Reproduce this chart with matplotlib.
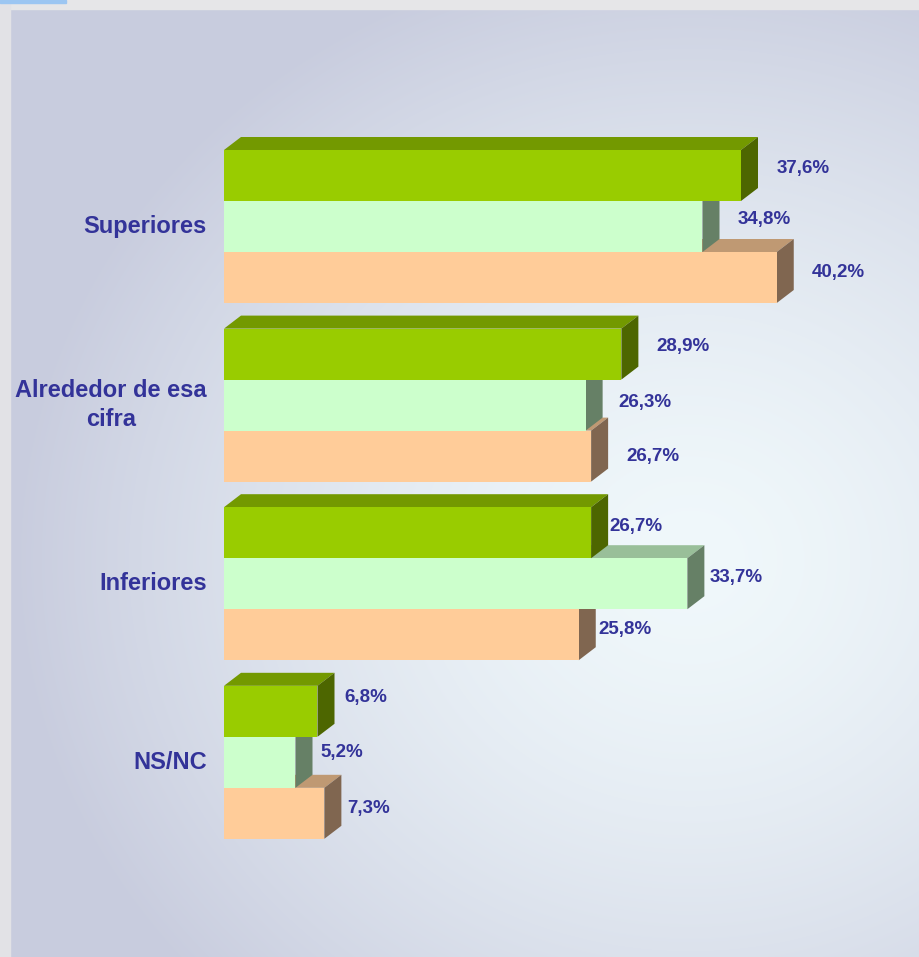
import matplotlib
matplotlib.use("Agg")
import matplotlib.pyplot as plt
from matplotlib.patches import Polygon, Rectangle
import numpy as np

# data
categories = ["Superiores", "Alrededor de esa\ncifra", "Inferiores", "NS/NC"]
series_a = [37.6, 28.9, 26.7, 6.8]   # top bar (green)
series_b = [34.8, 26.3, 33.7, 5.2]   # middle bar (light green)
series_c = [40.2, 26.7, 25.8, 7.3]   # bottom bar (peach)

# (front, top, side) colours per series
styles = [
    ("#99cc00", "#739900", "#4d6600"),
    ("#ccffcc", "#99bf99", "#668066"),
    ("#ffcc99", "#bf9973", "#806650"),
]

# hand-placed label nudges (pixels from bar end / bar centre), per group and series
label_dx_px = [[36, 35, 35], [35, 33, 35], [18, 22, 20], [27, 25, 23]]
label_dy_px = [[-7, -7, -5], [-8, -3, 0], [-6, -6, -5], [-14, -10, -5]]

W, H = 919, 957
fig = plt.figure(figsize=(W / 100, H / 100), dpi=100)

# background: soft radial gradient panel with a thin frame
bg = fig.add_axes([0, 0, 1, 1])
bg.set_xlim(0, W)
bg.set_ylim(H, 0)
bg.axis("off")
yy, xx = np.mgrid[0:H, 0:W]
d = np.sqrt(((xx - 690) / 680.0) ** 2 + ((yy - 560) / 620.0) ** 2)
t = np.clip(d, 0, 1) ** 1.5
light = np.array([240, 248, 251]) / 255.0
dark = np.array([200, 204, 222]) / 255.0
img = light[None, None, :] * (1 - t[..., None]) + dark[None, None, :] * t[..., None]
bg.imshow(img, extent=(0, W, H, 0), aspect="auto", zorder=0)
bg.add_patch(Rectangle((0, 0), W, 9, color="#e6e6e8", zorder=1))
bg.add_patch(Rectangle((0, 0), 10, H, color="#e2e2e6", zorder=1))
bg.add_patch(Rectangle((0, 0), 66, 3, color="#9cc6f2", zorder=2))

# chart axes, x in percent, y in group units
px_per_pct = 13.75
px_per_grp = 178.6
x0_px, y0_px = 224, 226.5
ax = fig.add_axes([0, 0, 1, 1])
ax.patch.set_alpha(0)
ax.axis("off")
ax.set_xlim(-x0_px / px_per_pct, (W - x0_px) / px_per_pct)
ax.set_ylim((H - y0_px) / px_per_grp, -y0_px / px_per_grp)

h = 51.0 / px_per_grp        # bar thickness
dx = 17.0 / px_per_pct       # depth, x
dy = 13.0 / px_per_grp       # depth, y
txt_color = "#333399"
font = ["Liberation Sans", "Arial", "DejaVu Sans"]

all_series = [series_a, series_b, series_c]
z = 2
for gi in range(len(categories)):
    # draw bottom bar first so the upper bars cover its top face
    for si in [2, 1, 0]:
        v = all_series[si][gi]
        yc = gi + (si - 1) * h
        top, bot = yc - h / 2, yc + h / 2
        front, topc, side = styles[si]
        ax.add_patch(Polygon([(0, top), (dx, top - dy), (v + dx, top - dy), (v, top)],
                             closed=True, facecolor=topc, edgecolor="none", zorder=z))
        ax.add_patch(Polygon([(v, top), (v + dx, top - dy), (v + dx, bot - dy), (v, bot)],
                             closed=True, facecolor=side, edgecolor="none", zorder=z))
        ax.barh(yc, v, height=h, left=0, color=front, edgecolor="none", zorder=z + 1)
        ax.text(v + label_dx_px[gi][si] / px_per_pct,
                yc + label_dy_px[gi][si] / px_per_grp,
                f"{v:.1f}%".replace(".", ","),
                ha="left", va="center", fontsize=13.5, fontweight="bold",
                color=txt_color, family=font, zorder=20)
        z += 2

    ax.text(-17.0 / px_per_pct, gi, categories[gi], ha="right", va="center",
            multialignment="center", fontsize=17, fontweight="bold",
            color=txt_color, family=font, linespacing=1.3, zorder=20)

fig.savefig("out.png", dpi=100)
